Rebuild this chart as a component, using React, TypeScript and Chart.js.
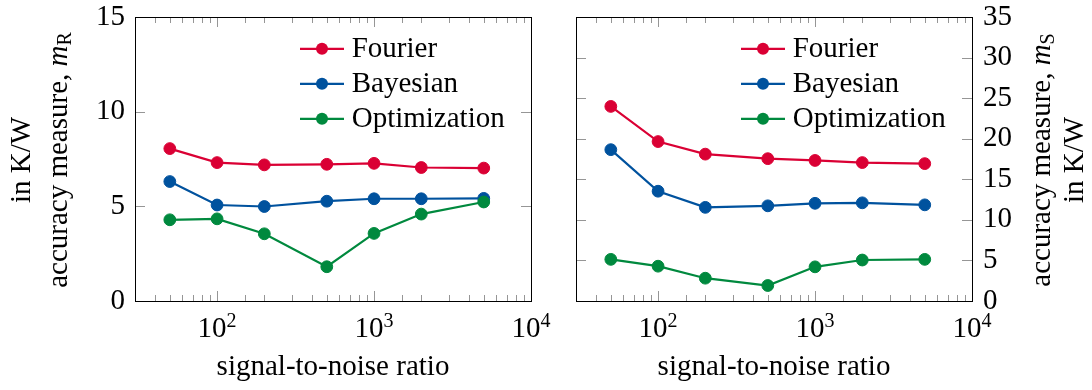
import React, { useEffect, useRef } from "react";
import { Chart, registerables } from "chart.js";

Chart.register(...registerables);

const SERIF = "'Liberation Serif', 'Times New Roman', Times, serif";
const FONT_SIZE = 29;
const SUP_SIZE = 20;
const SUB_SIZE = 20;

// ---- data ----
const snrValues = [50, 100, 200, 500, 1000, 2000, 5000];
const seriesLabels = ["Fourier", "Bayesian", "Optimization"];
const seriesColors = ["rgb(218,0,52)", "rgb(0,82,158)", "rgb(0,137,62)"];

const leftFourier = [8.05, 7.31, 7.19, 7.22, 7.27, 7.05, 7.02];
const leftBayesian = [6.31, 5.07, 4.99, 5.27, 5.4, 5.4, 5.42];
const leftOptimization = [4.29, 4.34, 3.55, 1.81, 3.57, 4.59, 5.23];

const rightFourier = [23.98, 19.65, 18.1, 17.54, 17.32, 17.06, 16.93];
const rightBayesian = [18.65, 13.53, 11.54, 11.73, 12.04, 12.1, 11.85];
const rightOptimization = [5.13, 4.29, 2.81, 1.91, 4.21, 5.05, 5.13];

const xMin = 30;
const xMax = 10000;
const xLabelValues = [100, 1000, 10000];
const xLabelBase = "10";
const xLabelExponents = ["2", "3", "4"];
const leftYMax = 15;
const rightYMax = 35;
const yStep = 5;

const xTitle = "signal-to-noise ratio";
const yTitleMain = "accuracy measure, ";
const yTitleSymbol = "m";
const leftSub = "R";
const rightSub = "S";
const yTitleUnit = "in K/W";

const TICK_COLOR = "rgb(150,150,150)";

type Spec = {
  series: number[][];
  yMax: number;
  side: "left" | "right";
  sub: string;
  canvasLeft: number;
  canvasWidth: number;
  padLeft: number;
  padRight: number;
  yWidth: number;
  unitX: number;
  mainX: number;
};

function drawRotated(
  ctx: CanvasRenderingContext2D,
  baselineX: number,
  centerY: number,
  parts: { text: string; font: string; dy: number }[]
) {
  const widths = parts.map((p) => {
    ctx.font = p.font;
    return ctx.measureText(p.text).width;
  });
  const total = widths.reduce((a, b) => a + b, 0);
  ctx.save();
  ctx.translate(baselineX, centerY);
  ctx.rotate(-Math.PI / 2);
  ctx.textAlign = "left";
  ctx.textBaseline = "alphabetic";
  ctx.fillStyle = "#000";
  let x = -total / 2;
  parts.forEach((p, i) => {
    ctx.font = p.font;
    ctx.fillText(p.text, x, p.dy);
    x += widths[i];
  });
  ctx.restore();
}

function makeDecor(spec: Spec) {
  return {
    id: "decor",
    afterDraw(chart: any) {
      const ctx: CanvasRenderingContext2D = chart.ctx;
      const { left, right, top, bottom } = chart.chartArea;
      const xs = chart.scales.x;
      const ys = chart.scales.y;
      ctx.save();

      // tick marks (inside, mirrored)
      ctx.strokeStyle = TICK_COLOR;
      ctx.lineWidth = 1;
      ctx.beginPath();
      for (const t of xs.ticks) {
        const v = t.value;
        if (v <= xs.min || v >= xs.max) continue;
        const e = Math.log10(v);
        const major = Math.abs(e - Math.round(e)) < 1e-9;
        const len = major ? 10 : 6;
        const px = Math.round(xs.getPixelForValue(v)) + 0.5;
        ctx.moveTo(px, bottom);
        ctx.lineTo(px, bottom - len);
        ctx.moveTo(px, top);
        ctx.lineTo(px, top + len);
      }
      for (const t of ys.ticks) {
        const v = t.value;
        if (v <= ys.min || v >= ys.max) continue;
        const py = Math.round(ys.getPixelForValue(v)) + 0.5;
        ctx.moveTo(left, py);
        ctx.lineTo(left + 10, py);
        ctx.moveTo(right, py);
        ctx.lineTo(right - 10, py);
      }
      ctx.stroke();

      // frame
      ctx.strokeStyle = "#000";
      ctx.lineWidth = 1;
      ctx.strokeRect(left + 0.5, top + 0.5, right - left, bottom - top);

      // x tick labels with superscripts
      ctx.fillStyle = "#000";
      ctx.textAlign = "left";
      ctx.textBaseline = "alphabetic";
      xLabelValues.forEach((v, i) => {
        const px = xs.getPixelForValue(v);
        ctx.font = `${FONT_SIZE}px ${SERIF}`;
        const w1 = ctx.measureText(xLabelBase).width;
        ctx.font = `${SUP_SIZE}px ${SERIF}`;
        const w2 = ctx.measureText(xLabelExponents[i]).width;
        const x0 = px - (w1 + w2) / 2;
        ctx.font = `${FONT_SIZE}px ${SERIF}`;
        ctx.fillText(xLabelBase, x0, bottom + 36.3);
        ctx.font = `${SUP_SIZE}px ${SERIF}`;
        ctx.fillText(xLabelExponents[i], x0 + w1, bottom + 25.7);
      });

      // y title
      const cy = (top + bottom) / 2 + 1;
      const mainFont = `${FONT_SIZE}px ${SERIF}`;
      drawRotated(ctx, spec.unitX, cy, [{ text: yTitleUnit, font: mainFont, dy: 0 }]);
      drawRotated(ctx, spec.mainX, cy, [
        { text: yTitleMain, font: mainFont, dy: 0 },
        { text: yTitleSymbol, font: `italic ${FONT_SIZE}px ${SERIF}`, dy: 0 },
        { text: spec.sub, font: `${SUB_SIZE}px ${SERIF}`, dy: 4.5 },
      ]);

      // legend
      const ds = chart.data.datasets;
      ds.forEach((d: any, i: number) => {
        const y = top + 31.8 + 35 * i;
        ctx.strokeStyle = d.borderColor;
        ctx.lineWidth = 2.2;
        ctx.beginPath();
        ctx.moveTo(right - 231, y);
        ctx.lineTo(right - 187, y);
        ctx.stroke();
        ctx.fillStyle = d.borderColor;
        ctx.beginPath();
        ctx.arc(right - 209, y, 6, 0, Math.PI * 2);
        ctx.fill();
        ctx.fillStyle = "#000";
        ctx.font = `${FONT_SIZE}px ${SERIF}`;
        ctx.fillText(d.label, right - 179.3, y + 8.3);
      });

      ctx.restore();
    },
  };
}

function makeConfig(spec: Spec): any {
  const datasets = spec.series.map((vals, i) => ({
    label: seriesLabels[i],
    data: snrValues.map((x, j) => ({ x, y: vals[j] })),
    borderColor: seriesColors[i],
    backgroundColor: seriesColors[i],
    pointBackgroundColor: seriesColors[i],
    pointBorderColor: seriesColors[i],
    pointBorderWidth: 1,
    pointRadius: 5.9,
    borderWidth: 2.2,
    tension: 0,
    fill: false,
    order: spec.series.length - 1 - i,
  }));
  return {
    type: "line",
    data: { datasets },
    options: {
      animation: false,
      responsive: false,
      maintainAspectRatio: false,
      devicePixelRatio: 1,
      events: [],
      layout: { padding: { left: spec.padLeft, right: spec.padRight, top: 17, bottom: 0 } },
      plugins: { legend: { display: false }, tooltip: { enabled: false } },
      scales: {
        x: {
          type: "logarithmic",
          min: xMin,
          max: xMax,
          position: "bottom",
          grid: { display: false, drawTicks: false },
          border: { display: false },
          ticks: { display: false },
          title: {
            display: true,
            text: xTitle,
            color: "#000",
            font: { family: SERIF, size: FONT_SIZE },
            padding: { top: 0, bottom: 5 },
          },
          afterFit: (s: any) => {
            s.height = 89;
            s.paddingLeft = 0;
            s.paddingRight = 0;
            s.paddingTop = 0;
            s.paddingBottom = 0;
          },
        },
        y: {
          type: "linear",
          min: 0,
          max: spec.yMax,
          position: spec.side,
          grid: { display: false, drawTicks: false },
          border: { display: false },
          ticks: {
            stepSize: yStep,
            autoSkip: false,
            color: "#000",
            font: { family: SERIF, size: FONT_SIZE },
            padding: spec.side === "left" ? 10 : 11,
          },
          afterFit: (s: any) => {
            s.width = spec.yWidth;
            s.paddingTop = 0;
            s.paddingBottom = 0;
            s.paddingLeft = 0;
            s.paddingRight = 0;
          },
        },
      },
    },
    plugins: [makeDecor(spec)],
  };
}

const leftSpec: Spec = {
  series: [leftFourier, leftBayesian, leftOptimization],
  yMax: leftYMax,
  side: "left",
  sub: leftSub,
  canvasLeft: 0,
  canvasWidth: 560,
  padLeft: 0,
  padRight: 29,
  yWidth: 135,
  unitX: 29.5,
  mainX: 66.5,
};

const rightSpec: Spec = {
  series: [rightFourier, rightBayesian, rightOptimization],
  yMax: rightYMax,
  side: "right",
  sub: rightSub,
  canvasLeft: 560,
  canvasWidth: 532,
  padLeft: 16,
  padRight: 0,
  yWidth: 120,
  unitX: 522.5,
  mainX: 489.7,
};

function Panel({ spec }: { spec: Spec }) {
  const ref = useRef<HTMLCanvasElement | null>(null);
  useEffect(() => {
    if (!ref.current) return;
    const chart = new Chart(ref.current, makeConfig(spec));
    return () => chart.destroy();
  }, [spec]);
  return (
    <canvas
      ref={ref}
      width={spec.canvasWidth}
      height={390}
      style={{
        position: "absolute",
        left: spec.canvasLeft,
        top: 0,
        width: spec.canvasWidth,
        height: 390,
      }}
    />
  );
}

export default function App() {
  useEffect(() => {
    document.body.style.margin = "0";
  }, []);
  return (
    <div
      style={{
        position: "absolute",
        left: 0,
        top: 0,
        width: 1092,
        height: 390,
        background: "#fff",
        overflow: "hidden",
      }}
    >
      <Panel spec={leftSpec} />
      <Panel spec={rightSpec} />
    </div>
  );
}
